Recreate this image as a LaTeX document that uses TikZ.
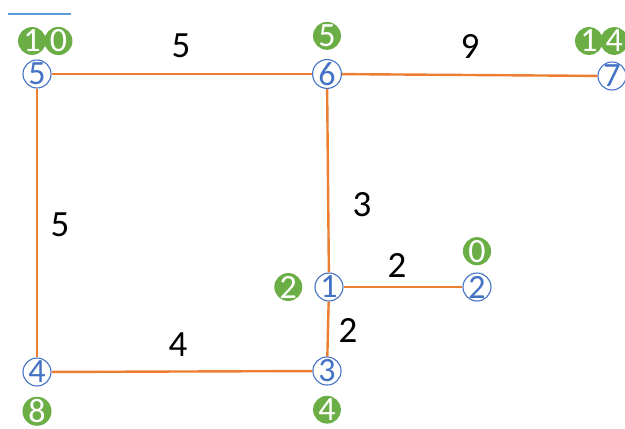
\documentclass[tikz,border=0pt]{standalone}
\usepackage{fontspec}
\setmainfont{Carlito}
\usetikzlibrary{positioning}
\definecolor{orange}{HTML}{ED7D31}
\definecolor{blue}{HTML}{4472C4}
\definecolor{bluelite}{HTML}{5B9BD5}
\definecolor{green}{HTML}{6AAE45}

\begin{document}
\begin{tikzpicture}[x=1pt,y=-1pt,
    vertex/.style={circle,draw=blue,line width=1.1pt,fill=white,text=blue,inner sep=0pt,minimum size=28pt,font=\fontsize{34}{34}\selectfont},
    dist/.style={circle,fill=green,text=white,inner sep=0pt,minimum size=27pt,font=\fontsize{34}{34}\selectfont},
    weight/.style={text=black,inner sep=0pt,font=\fontsize{37}{37}\selectfont},
    edge/.style={draw=orange,line width=2.4pt}]
      \useasboundingbox (0,0) rectangle (625,429);
      % marker line at top left
      \coordinate (m1) at (8,14);
      \coordinate (m2) at (71,14);
      \draw[bluelite,line width=2pt] (m1) -- (m2);
      % vertices
      \node[vertex] (v5) at (37,74) {5};
      \node[vertex] (v6) at (327,74) {6};
      \node[vertex] (v7) at (612,76) {7};
      \node[vertex] (v1) at (329,287) {1};
      \node[vertex] (v2) at (477,287) {2};
      \node[vertex] (v3) at (327,371) {3};
      \node[vertex] (v4) at (37,372) {4};
      \draw[edge] (v5) -- (v6);
      \draw[edge] (v6) -- (v7);
      \draw[edge] (v5) -- (v4);
      \draw[edge] (v6) -- (v1);
      \draw[edge] (v1) -- (v2);
      \draw[edge] (v1) -- (v3);
      \draw[edge] (v4) -- (v3);
      % distances
      \node[dist] (d5a) at (32,41) {1};
      \node[dist,right=-2pt of d5a] (d5b) {0};
      \node[dist,above=9pt of v6] (d6) {5};
      \node[dist] (d7a) at (589,41) {1};
      \node[dist,right=-3pt of d7a] (d7b) {4};
      \node[dist,above=7pt of v2] (d2) {0};
      \node[dist,left=12pt of v1] (d1) {2};
      \node[dist,below=10pt of v3] (d3) {4};
      \node[dist,below=10pt of v4] (d4) {8};
      % weights
      \node[weight] (w56) at (181,46) {5};
      \node[weight] (w67) at (470,46) {9};
      \node[weight] (w54) at (60,225) {5};
      \node[weight] (w61) at (362,205) {3};
      \node[weight] (w12) at (397,265) {2};
      \node[weight] (w13) at (348,330) {2};
      \node[weight] (w43) at (178,345) {4};
    \end{tikzpicture}
\end{document}
